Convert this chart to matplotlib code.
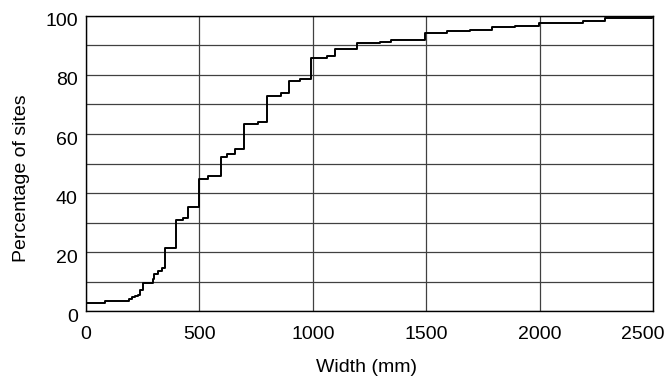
import matplotlib
matplotlib.use("Agg")
import matplotlib.pyplot as plt
from matplotlib.ticker import MultipleLocator
from matplotlib.transforms import ScaledTranslation

plt.rcParams['font.family'] = ['Liberation Sans', 'DejaVu Sans']

# Cumulative distribution of site widths (step starts, mm) and percentage of sites
width_mm = [0, 85, 190, 205, 215, 230, 240, 250, 295, 300, 318, 336, 348, 398,
            430, 450, 497, 540, 595, 620, 655, 697, 760, 797, 860, 895, 945,
            993, 1062, 1097, 1194, 1296, 1343, 1493, 1590, 1692, 1791, 1890,
            1997, 2190, 2290, 2495, 2500]
pct_sites = [2.8, 3.4, 4.2, 4.9, 5.2, 5.4, 7.0, 9.4, 11.0, 12.5, 13.4, 14.5, 21.5,
             30.9, 31.6, 35.3, 44.8, 45.8, 52.3, 53.1, 54.8, 63.3, 64.0, 73.0,
             73.8, 78.1, 78.6, 85.9, 86.4, 88.8, 90.7, 91.2, 91.9, 94.3, 94.9,
             95.4, 96.2, 96.7, 97.7, 98.4, 99.2, 100, 100]

x_ticks = [0, 500, 1000, 1500, 2000, 2500]
y_ticks = [0, 20, 40, 60, 80, 100]

fig = plt.figure(figsize=(6.68, 3.78), dpi=100)
ax = fig.add_axes([0.1287, 0.1772, 0.8488, 0.7805])

ax.step(width_mm, pct_sites, where='post', color='black', linewidth=1.4, zorder=3)

ax.set_xlim(0, 2500)
ax.set_ylim(0, 100)
ax.set_xticks(x_ticks)
ax.set_yticks(y_ticks)
ax.yaxis.set_minor_locator(MultipleLocator(10))
ax.grid(which='major', color='#404040', linewidth=0.9)
ax.grid(which='minor', axis='y', color='#404040', linewidth=0.9)
ax.tick_params(which='both', length=0, labelsize=14)
ax.tick_params(axis='x', pad=11)
ax.tick_params(axis='y', pad=6)
for s in ax.spines.values():
    s.set_color('black')
    s.set_linewidth(1.0)

# nudge y tick labels slightly downward, keep the last x label inside the figure
down = ScaledTranslation(0, -4 / 100, fig.dpi_scale_trans)
for t in ax.yaxis.get_major_ticks():
    t.label1.set_transform(t.label1.get_transform() + down)
last = ax.xaxis.get_major_ticks()[-1]
last.label1.set_transform(last.label1.get_transform()
                          + ScaledTranslation(-10 / 100, 0, fig.dpi_scale_trans))

ax.set_xlabel('Width (mm)', fontsize=14)
ax.set_ylabel('Percentage of sites', fontsize=14)
ax.xaxis.set_label_coords(0.495, -0.162)
ax.yaxis.set_label_coords(-0.099, 0.451)

fig.savefig('out.png', dpi=100)
